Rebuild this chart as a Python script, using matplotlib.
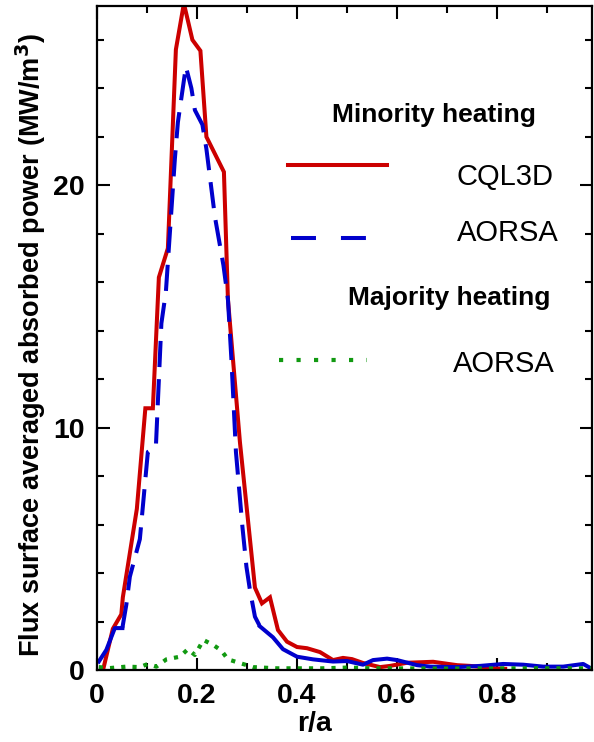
import matplotlib
matplotlib.use("Agg")
import matplotlib.pyplot as plt
from matplotlib.lines import Line2D
from matplotlib.ticker import MultipleLocator

plt.rcParams["font.family"] = ["Liberation Sans", "DejaVu Sans"]

# CQL3D minority heating
r_cql = [0.013, 0.032, 0.049, 0.052, 0.080, 0.097, 0.112, 0.124, 0.142, 0.158,
         0.174, 0.191, 0.207, 0.219, 0.254, 0.262, 0.286, 0.316, 0.330, 0.346,
         0.362, 0.380, 0.400, 0.420, 0.446, 0.472, 0.492, 0.510, 0.532, 0.566,
         0.586, 0.620, 0.672, 0.720, 0.746, 0.786, 0.816]
p_cql = [0.05, 1.7, 2.3, 3.0, 6.65, 10.8, 10.8, 16.2, 17.4, 25.6,
         27.5, 26.0, 25.55, 22.0, 20.55, 15.3, 9.4, 3.4, 2.75, 3.0,
         1.65, 1.17, 0.95, 0.9, 0.74, 0.41, 0.5, 0.45, 0.29, 0.12,
         0.17, 0.3, 0.34, 0.2, 0.17, 0.08, 0.05]

# AORSA minority heating
r_aor = [0.004, 0.019, 0.036, 0.051, 0.059, 0.066, 0.086, 0.102, 0.118, 0.129,
         0.138, 0.156, 0.162, 0.178, 0.189, 0.196, 0.211, 0.219, 0.236, 0.253,
         0.262, 0.269, 0.278, 0.291, 0.299, 0.306, 0.316, 0.326, 0.352, 0.372,
         0.400, 0.432, 0.472, 0.500, 0.532, 0.552, 0.580, 0.600, 0.640, 0.666,
         0.720, 0.766, 0.812, 0.852, 0.892, 0.932, 0.972, 0.990]
p_aor = [0.35, 0.83, 1.73, 1.73, 2.7, 3.85, 5.4, 9.0, 9.2, 14.3,
         15.6, 21.1, 22.6, 24.9, 24.0, 23.1, 22.5, 21.5, 18.7, 16.7,
         15.3, 12.8, 9.0, 5.9, 4.26, 3.3, 2.2, 1.8, 1.35, 0.86,
         0.55, 0.44, 0.35, 0.37, 0.22, 0.41, 0.47, 0.41, 0.2, 0.14,
         0.12, 0.17, 0.25, 0.22, 0.14, 0.14, 0.25, 0.04]

# AORSA majority heating
r_maj = [0.004, 0.026, 0.059, 0.086, 0.102, 0.119, 0.139, 0.166, 0.182, 0.196,
         0.213, 0.233, 0.249, 0.262, 0.292, 0.312, 0.360, 0.450, 0.500, 0.550,
         0.700, 0.850, 0.990]
p_maj = [0.12, 0.08, 0.14, 0.12, 0.25, 0.14, 0.44, 0.55, 0.86, 0.62,
         1.24, 1.03, 0.8, 0.44, 0.25, 0.12, 0.07, 0.07, 0.1, 0.07,
         0.06, 0.07, 0.07]

red = "#cc0000"
blue = "#0000cc"
green = "#119911"

fig = plt.figure(figsize=(5.94, 7.42), dpi=100)
ax = fig.add_axes([0.163, 0.097, 0.834, 0.895])

ax.plot(r_cql, p_cql, color=red, lw=2.9, solid_joinstyle="miter")
# dashes only show on the steep part, the flat tails look solid
i0, i1 = 3, 27
ax.plot(r_aor[:i0 + 1], p_aor[:i0 + 1], color=blue, lw=2.9)
ax.plot(r_aor[i0:i1 + 1], p_aor[i0:i1 + 1], color=blue, lw=2.9,
        linestyle=(0, (6.5, 3.0)))
ax.plot(r_aor[i1:], p_aor[i1:], color=blue, lw=2.9)
ax.plot(r_maj, p_maj, color=green, lw=3.0, linestyle=(0, (1, 1.7)),
        dash_capstyle="butt", clip_on=False)

ax.set_xlim(0, 0.99)
ax.set_ylim(0, 27.4)
ax.xaxis.set_major_locator(MultipleLocator(0.2))
ax.xaxis.set_minor_locator(MultipleLocator(0.1))
ax.yaxis.set_major_locator(MultipleLocator(10))
ax.yaxis.set_minor_locator(MultipleLocator(2))
ax.set_xticks([0, 0.2, 0.4, 0.6, 0.8])
ax.set_xticklabels(["0", "0.2", "0.4", "0.6", "0.8"])
ax.tick_params(which="both", direction="in", top=True, right=True, width=1.5)
ax.tick_params(which="major", length=9, labelsize=20.5, pad=9)
ax.tick_params(which="minor", length=5)
for lab in ax.get_xticklabels() + ax.get_yticklabels():
    lab.set_fontweight("bold")
for s in ax.spines.values():
    s.set_linewidth(1.6)

ax.set_xlabel("r/a", fontsize=20.5, fontweight="bold")
ax.xaxis.set_label_coords(0.44, -0.062)
ax.set_ylabel("Flux surface averaged absorbed power (MW/m$^\\mathbf{3}$)",
              fontsize=19.5, fontweight="bold")
ax.yaxis.set_label_coords(-0.098, 0.49)

# hand-made legend
tr = ax.transAxes
ax.text(0.68, 0.836, "Minority heating", transform=tr, ha="center", va="center",
        fontsize=19, fontweight="bold")
ax.add_line(Line2D([0.386, 0.586], [0.76, 0.76], transform=tr, color=red, lw=2.9))
ax.text(0.727, 0.743, "CQL3D", transform=tr, ha="left", va="center", fontsize=21)
ax.add_line(Line2D([0.391, 0.545], [0.651, 0.651], transform=tr, color=blue, lw=2.9,
                   linestyle=(0, (6.2, 6.2))))
ax.text(0.727, 0.658, "AORSA", transform=tr, ha="left", va="center", fontsize=21)
ax.text(0.711, 0.56, "Majority heating", transform=tr, ha="center", va="center",
        fontsize=19, fontweight="bold")
ax.add_line(Line2D([0.367, 0.545], [0.467, 0.467], transform=tr, color=green, lw=3.0,
                   linestyle=(0, (1, 3.2)), dash_capstyle="butt"))
ax.text(0.719, 0.461, "AORSA", transform=tr, ha="left", va="center", fontsize=21)

fig.savefig("out.png", dpi=100)
